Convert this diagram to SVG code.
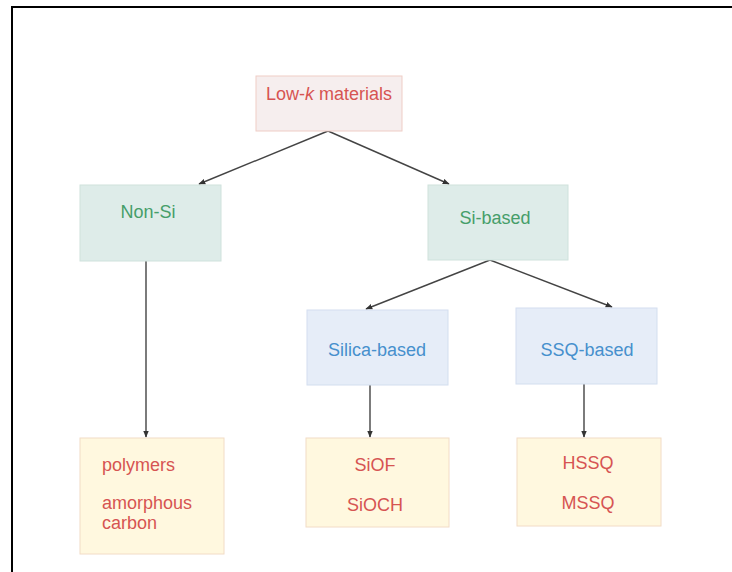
<svg xmlns="http://www.w3.org/2000/svg" width="732" height="572" viewBox="0 0 732 572">
<defs>
<marker id="ah" viewBox="0 0 10 10" refX="9" refY="5" markerWidth="7" markerHeight="7" orient="auto" markerUnits="userSpaceOnUse">
<path d="M0,1 L10,5 L0,9 z" fill="#333"/>
</marker>
<style>
.t{font-family:"Liberation Sans",Arial,sans-serif;font-size:18px;}
.red{fill:#d65452;}
.grn{fill:#469e69;}
.blu{fill:#4690cd;}
.pink{fill:#f6eeee;stroke:#efcdc6;stroke-width:1;}
.green{fill:#deece9;stroke:#cfe2dc;stroke-width:1;}
.blue{fill:#e6edf8;stroke:#d3deef;stroke-width:1;}
.yel{fill:#fff8df;stroke:#f2dcc6;stroke-width:1;}
.c{fill:none;stroke:#444;stroke-width:1.4;marker-end:url(#ah);}
</style>
</defs>
<rect width="732" height="572" fill="#fff"/>
<path d="M12,572 V7 H732" fill="none" stroke="#000" stroke-width="2"/>
<g id="connectors">
<line class="c" x1="328" y1="131" x2="199" y2="184"/>
<line class="c" x1="328" y1="131" x2="449" y2="184"/>
<line class="c" x1="146" y1="261" x2="146" y2="437"/>
<line class="c" x1="490" y1="260" x2="366" y2="309"/>
<line class="c" x1="490" y1="260" x2="612" y2="307"/>
<line class="c" x1="370" y1="385" x2="370" y2="437"/>
<line class="c" x1="584" y1="384" x2="584" y2="437"/>
</g>
<g id="lowk">
<rect class="pink" x="256" y="76" width="146" height="55"/>
<text class="t red" x="329" y="100" text-anchor="middle">Low-<tspan font-style="italic">k</tspan> materials</text>
</g>
<g id="nonsi">
<rect class="green" x="80" y="185" width="141" height="76"/>
<text class="t grn" x="148" y="218" text-anchor="middle">Non-Si</text>
</g>
<g id="sibased">
<rect class="green" x="428" y="185" width="140" height="75"/>
<text class="t grn" x="495" y="224" text-anchor="middle">Si-based</text>
</g>
<g id="silica">
<rect class="blue" x="307" y="310" width="141" height="75"/>
<text class="t blu" x="377" y="356" text-anchor="middle">Silica-based</text>
</g>
<g id="ssq">
<rect class="blue" x="516" y="308" width="141" height="76"/>
<text class="t blu" x="587" y="356" text-anchor="middle">SSQ-based</text>
</g>
<g id="polymers">
<rect class="yel" x="80" y="438" width="144" height="116"/>
<text class="t red" x="102" y="471">polymers</text>
<text class="t red" x="102" y="509">amorphous</text>
<text class="t red" x="102" y="529">carbon</text>
</g>
<g id="silicaleaf">
<rect class="yel" x="306" y="438" width="143" height="89"/>
<text class="t red" x="375" y="471" text-anchor="middle">SiOF</text>
<text class="t red" x="375" y="511" text-anchor="middle">SiOCH</text>
</g>
<g id="ssqleaf">
<rect class="yel" x="517" y="438" width="144" height="88"/>
<text class="t red" x="588" y="469" text-anchor="middle">HSSQ</text>
<text class="t red" x="588" y="509" text-anchor="middle">MSSQ</text>
</g>
</svg>
